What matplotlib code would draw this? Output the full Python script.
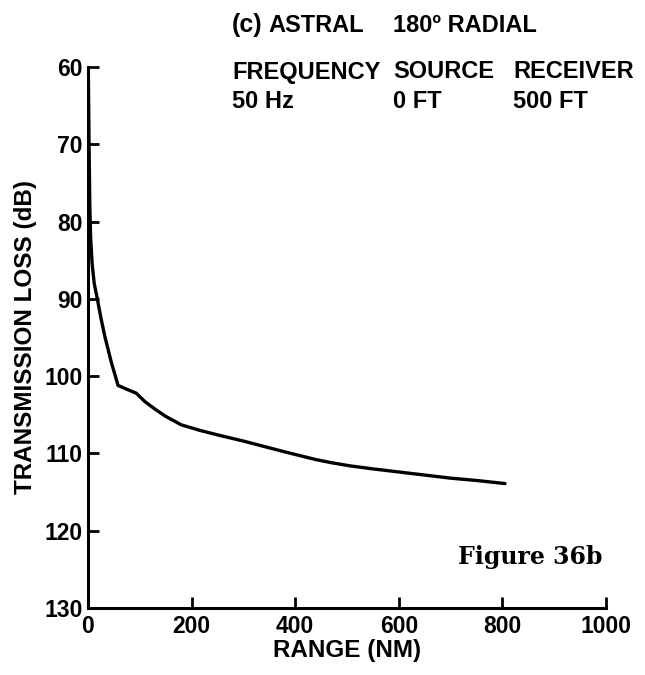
import matplotlib
matplotlib.use("Agg")
import matplotlib.pyplot as plt

range_nm = [0.5, 2, 3.5, 5, 8, 12, 18, 25, 33, 45, 58, 75, 93, 110, 130, 150, 180,
            215, 250, 300, 340, 380, 440, 470, 505, 550, 600, 650, 700, 750, 805]
loss_db = [60, 70, 78, 82, 85.5, 88, 90, 92.5, 95, 98.2, 101.2, 101.7, 102.2, 103.3,
           104.3, 105.2, 106.3, 107, 107.6, 108.4, 109.1, 109.8, 110.8, 111.2, 111.6,
           112.0, 112.4, 112.8, 113.2, 113.5, 113.9]
xticks = [0, 200, 400, 600, 800, 1000]
yticks = [60, 70, 80, 90, 100, 110, 120, 130]

plt.rcParams['font.family'] = ['Liberation Sans', 'DejaVu Sans']

fig = plt.figure(figsize=(6.45, 6.75), dpi=100)
ax = fig.add_axes([88/645, 1-608/675, (606-88)/645, (608-67)/675])
ax.plot(range_nm, loss_db, color='black', lw=2.4, solid_capstyle='round')
ax.set_xlim(0, 1000)
ax.set_ylim(130, 60)
ax.set_xticks(xticks)
ax.set_yticks(yticks)
ax.spines['top'].set_visible(False)
ax.spines['right'].set_visible(False)
for s in ['left', 'bottom']:
    ax.spines[s].set_linewidth(2.2)
ax.tick_params(direction='in', length=8, width=2, labelsize=16.5)
ax.tick_params(axis='x', pad=5)
ax.tick_params(axis='y', pad=4)
for lbl in ax.get_xticklabels() + ax.get_yticklabels():
    lbl.set_fontweight('bold')
ax.set_xlabel('RANGE (NM)', fontsize=17.5, fontweight='bold', labelpad=1)
ax.set_ylabel('TRANSMISSION LOSS (dB)', fontsize=17.5, fontweight='bold', labelpad=5)

fs = 17
fig.text(232/645, 1-25/675, '(c)', fontsize=fs + 1, fontweight='bold', va='center', ha='left')
fig.text(268/645, 1-25/675, 'ASTRAL', fontsize=fs, fontweight='bold', va='center', ha='left')
fig.text(393/645, 1-25/675, '180º RADIAL', fontsize=fs, fontweight='bold', va='center', ha='left')
rows = [("FREQUENCY", "SOURCE", "RECEIVER"), ("50 Hz", "0 FT", "500 FT")]
xs = [232, 393, 513]
ys = [72, 101]
for row, y in zip(rows, ys):
    for t, x in zip(row, xs):
        fig.text(x/645, 1-y/675, t, fontsize=fs, fontweight='bold', va='center', ha='left')

fig.text(603/645, 1-557/675, 'Figure 36b', fontsize=17, fontweight='bold',
         family='DejaVu Serif', va='center', ha='right')

fig.savefig('out.png', dpi=100)
